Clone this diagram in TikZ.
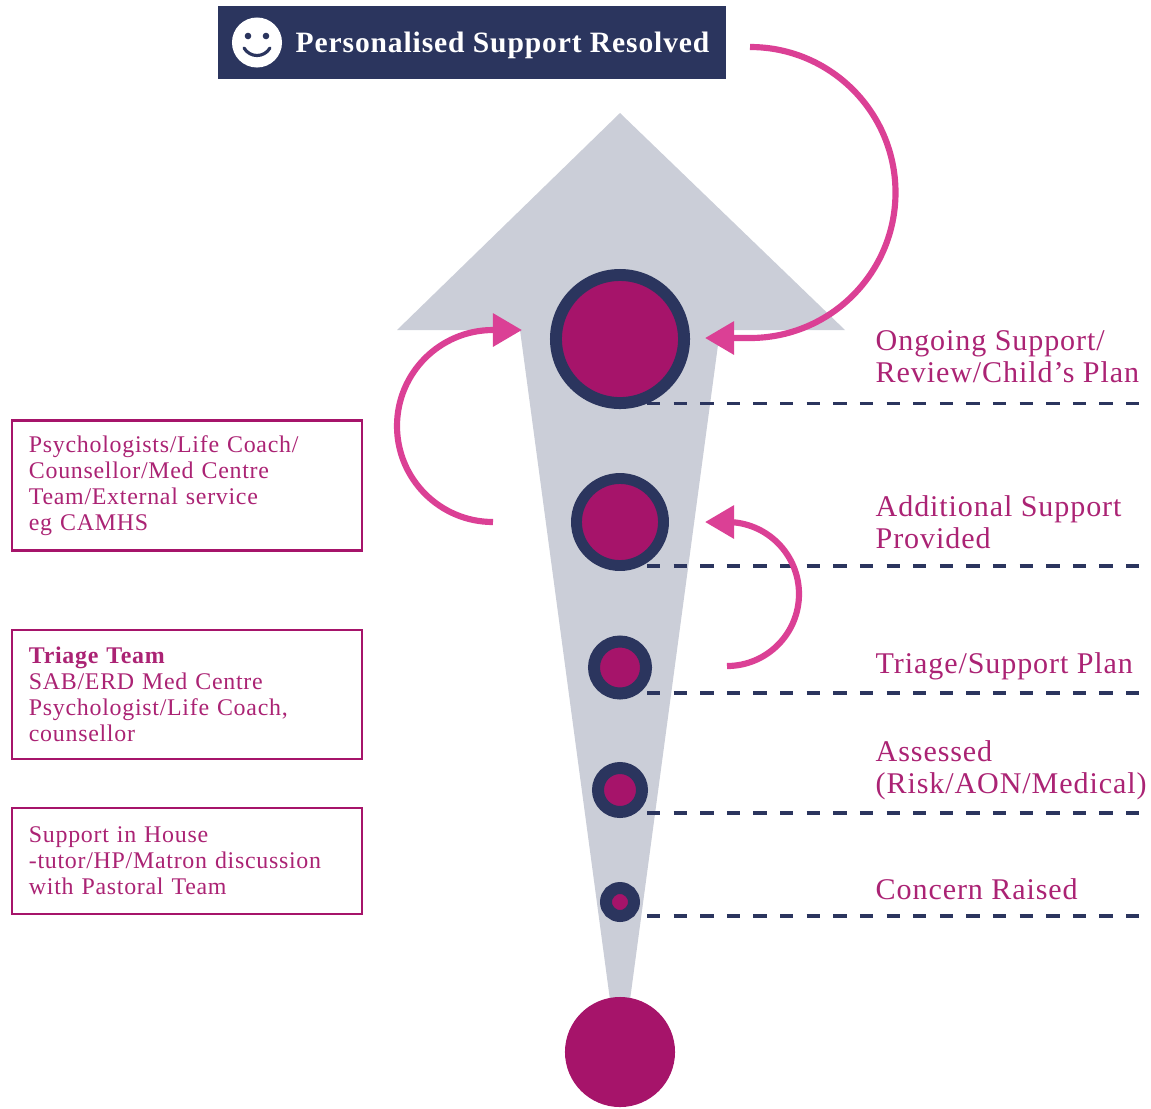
\documentclass[tikz,border=0pt]{standalone}
\usepackage{fontspec}
\setmainfont[LetterSpace=3]{Liberation Serif}
\usetikzlibrary{arrows.meta}
\definecolor{navy}{HTML}{2B355E}
\definecolor{plum}{HTML}{A6146A}
\definecolor{plumtext}{HTML}{AB2374}
\definecolor{rosy}{HTML}{DB4095}
\definecolor{mist}{HTML}{CBCED8}
\tikzset{
    ring/.style={circle, draw=navy, fill=plum, inner sep=0pt, outer sep=0pt},
    infobox/.style={draw=plum, line width=0.7pt, fill=white, minimum width=3.5cm, inner xsep=0.17cm, inner ysep=0pt, text width=3.16cm, align=left, text=plumtext, font=\fontsize{6.8}{7.35}\selectfont},
    stagelabel/.style={anchor=west, inner sep=0pt, align=left, text=plumtext, font=\fontsize{8.55}{9.2}\selectfont},
    levelline/.style={draw=navy, line width=1pt, dash pattern=on 0.133cm off 0.133cm},
    loopline/.style={draw=rosy, line width=1.75pt, -{Triangle[length=0.29cm,width=0.32cm]}}
}

\begin{document}
\begin{tikzpicture}[x=0.01cm, y=-0.01cm]
    \useasboundingbox (0,0) rectangle (1151,1108);

    % arrow body
    \fill[mist] (620,113) -- (845,330) -- (720,330) -- (630,1000) -- (610,1000) -- (520,330) -- (397,330) -- cycle;

    % banner
    \node[fill=navy, minimum width=5.08cm, minimum height=0.73cm, inner sep=0pt] (banner) at (472,42.5) {};
    \node[circle, fill=white, minimum size=0.5cm, inner sep=0pt] (smiley) at (257,42.5) {};
    \fill[navy] (248,36) circle (3.3) (266,36) circle (3.3);
    \draw[navy, line width=0.9pt, line cap=round] (244,48) .. controls (250,58) and (264,58) .. (270,48);
    \node[anchor=west, inner sep=0pt, text=white, font=\fontsize{8.4}{9}\selectfont\bfseries] (bannertext) at (295,45.5) {Personalised Support Resolved};

    % stages
    \node[ring, line width=3.4pt, minimum size=1.28cm] (ongoing) at (620,339) {};
    \node[ring, line width=3.1pt, minimum size=0.87cm] (additional) at (620,522) {};
    \node[ring, line width=3.4pt, minimum size=0.52cm] (triage) at (620,667.5) {};
    \node[ring, line width=3.4pt, minimum size=0.44cm] (assessed) at (620,790) {};
    \node[ring, line width=3.4pt, minimum size=0.28cm] (concern) at (620,902) {};
    \node[circle, fill=plum, minimum size=1.1cm, inner sep=0pt] (start) at (620,1052) {};

    % dashed levels
    \foreach \name/\ypos in {ongoing/403.5, additional/566, triage/693, assessed/813, concern/916} {
        \coordinate (\name a) at (647,\ypos);
        \coordinate (\name b) at (1140,\ypos);
        \draw[levelline] (\name a) -- (\name b);
    }

    % right labels
    \node[stagelabel] (lblongoing) at (875,356.5) {Ongoing Support/\\Review/Child’s Plan};
    \node[stagelabel] (lbladditional) at (875,522) {Additional Support\\Provided};
    \node[stagelabel] (lbltriage) at (875,666) {Triage/Support Plan};
    \node[stagelabel] (lblassessed) at (875,770) {Assessed\\(Risk/AON/Medical)};
    \node[stagelabel] (lblconcern) at (875,889) {Concern Raised};

    % left boxes
    \node[infobox, minimum height=1.3cm] (psych) at (187,485.5) {Psychologists/Life Coach/\\Counsellor/Med Centre\\Team/External service\\eg CAMHS};
    \node[infobox, minimum height=1.29cm] (team) at (187,694.5) {\textbf{Triage Team}\\SAB/ERD Med Centre\\Psychologist/Life Coach,\\counsellor};
    \node[infobox, minimum height=1.06cm] (house) at (187,861) {Support in House\\-tutor/HP/Matron discussion\\with Pastoral Team};

    % loop arrows
    \coordinate (topstart) at (750,47);
    \coordinate (topend) at (705,338);
    \coordinate (leftstart) at (493,522);
    \coordinate (leftend) at (522,330);
    \coordinate (midstart) at (727,666);
    \coordinate (midend) at (705,522);
    \draw[loopline] (topstart) arc[start angle=-90, end angle=90, radius=145.5] -- (topend);
    \draw[loopline] (leftstart) arc[start angle=90, end angle=270, radius=96] -- (leftend);
    \draw[loopline] (midstart) arc[start angle=90, end angle=-90, radius=72] -- (midend);
\end{tikzpicture}
\end{document}
